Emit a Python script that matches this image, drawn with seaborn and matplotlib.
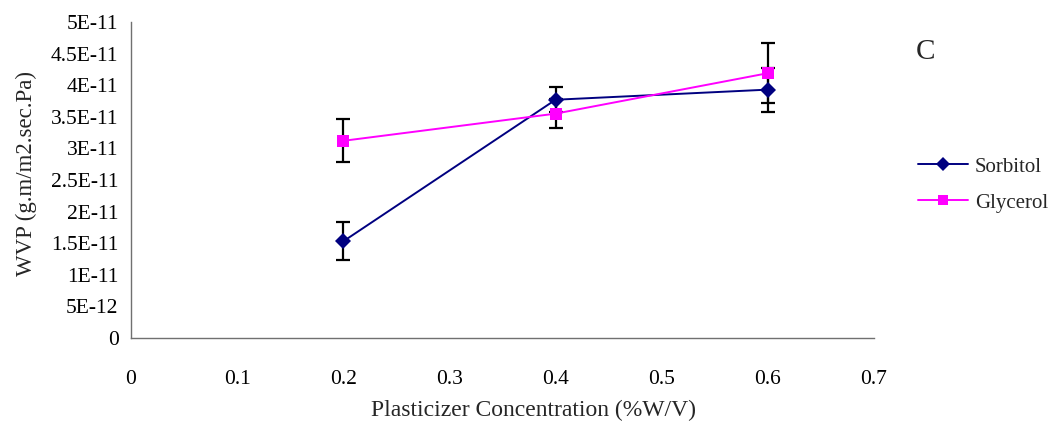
import matplotlib
matplotlib.use("Agg")
import matplotlib.pyplot as plt
import seaborn as sns
import pandas as pd
import numpy as np
from matplotlib.lines import Line2D

conc = [0.2, 0.4, 0.6]
sorbitol = [1.53e-11, 3.77e-11, 3.93e-11]
sorbitol_err = [0.30e-11, 0.20e-11, 0.35e-11]
glycerol = [3.12e-11, 3.55e-11, 4.19e-11]
glycerol_err = [0.34e-11, 0.23e-11, 0.47e-11]
yticks = [0, 5e-12, 1e-11, 1.5e-11, 2e-11, 2.5e-11, 3e-11, 3.5e-11, 4e-11, 4.5e-11, 5e-11]
ytick_labels = ["0", "5E-12", "1E-11", "1.5E-11", "2E-11", "2.5E-11", "3E-11",
                "3.5E-11", "4E-11", "4.5E-11", "5E-11"]
xticks = [0, 0.1, 0.2, 0.3, 0.4, 0.5, 0.6, 0.7]
xtick_labels = ["0", "0.1", "0.2", "0.3", "0.4", "0.5", "0.6", "0.7"]

sns.set_theme(style="white")
plt.rcParams['font.family'] = ['Liberation Serif', 'DejaVu Serif']

df = pd.DataFrame({
    "conc": conc * 2,
    "wvp": sorbitol + glycerol,
    "series": ["Sorbitol"] * 3 + ["Glycerol"] * 3,
})

fig = plt.figure(figsize=(10.55, 4.23), dpi=100)
ax = fig.add_axes([0.1242, 0.2009, 0.7042, 0.7471])

ax.errorbar(conc, sorbitol, yerr=sorbitol_err, fmt="none", ecolor="black",
            elinewidth=1.6, capsize=5, capthick=1.6, zorder=1)
ax.errorbar(conc, glycerol, yerr=glycerol_err, fmt="none", ecolor="black",
            elinewidth=1.6, capsize=5, capthick=1.6, zorder=1)

sns.lineplot(data=df, x="conc", y="wvp", hue="series", style="series",
             palette={"Sorbitol": "#000080", "Glycerol": "#FF00FF"},
             markers={"Sorbitol": "D", "Glycerol": "s"}, dashes=False,
             markersize=8, markeredgewidth=0, linewidth=1.4, ax=ax, zorder=3,
             legend=False)

ax.set_xlim(0, 0.7)
ax.set_ylim(0, 5e-11)
ax.set_xticks(xticks)
ax.set_xticklabels(xtick_labels)
ax.set_yticks(yticks)
ax.set_yticklabels(ytick_labels)
for s in ["top", "right"]:
    ax.spines[s].set_visible(False)
for s in ["left", "bottom"]:
    ax.spines[s].set_color("#707070")
    ax.spines[s].set_linewidth(1.0)
ax.tick_params(axis="both", direction="out", length=6, width=1.0, color="#707070",
               labelsize=15.5, labelcolor="black")
ax.tick_params(axis="x", pad=17)
ax.tick_params(axis="y", pad=4, length=5)
ax.set_xlabel("Plasticizer Concentration (%W/V)", fontsize=17, labelpad=8)
ax.set_ylabel("WVP (g.m/m2.sec.Pa)", fontsize=16.5, labelpad=10)
ax.xaxis.label.set_x(0.542)
ax.yaxis.label.set_y(0.522)

handles = [
    Line2D([], [], color="#000080", marker="D", markersize=7, markeredgewidth=0, linewidth=1.4),
    Line2D([], [], color="#FF00FF", marker="s", markersize=7, markeredgewidth=0, linewidth=1.4),
]
fig.legend(handles, ["Sorbitol", "Glycerol"], loc="center left",
           bbox_to_anchor=(0.870, 0.563), frameon=False, fontsize=15,
           borderpad=0, borderaxespad=0,
           handlelength=2.4, handletextpad=0.34, labelspacing=0.8)

fig.text(0.877, 0.876, "C", fontsize=21, ha="center", va="center")

fig.savefig("out.png", dpi=100)
